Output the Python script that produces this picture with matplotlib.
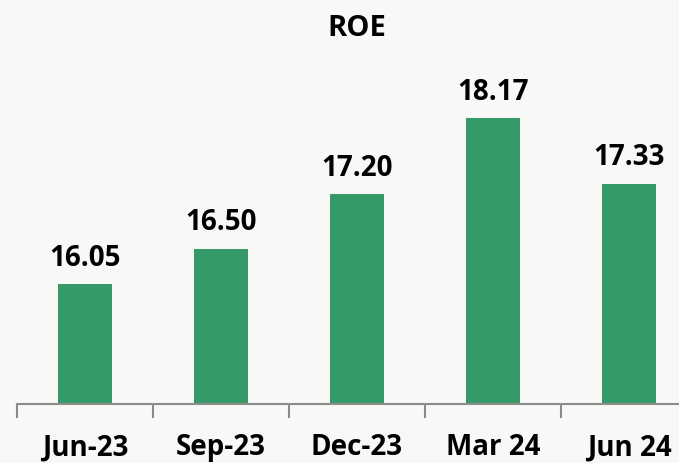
"""
ROE bar chart by quarter
"""

import matplotlib
matplotlib.use('Agg')
import matplotlib.pyplot as plt
import numpy as np

# Data
categories = ['Jun-23', 'Sep-23', 'Dec-23', 'Mar 24', 'Jun 24']
roe = [16.05, 16.50, 17.20, 18.17, 17.33]
title = 'ROE'

BAR_COLOR = '#359A68'
BG_COLOR = '#F8F8F6'
AXIS_COLOR = '#8C8C8C'

plt.rcParams['font.family'] = ['Open Sans', 'DejaVu Sans']

fig = plt.figure(figsize=(6.79, 4.63), dpi=100)
fig.patch.set_facecolor(BG_COLOR)

# axes runs past the right edge of the figure, as in the original
ax = fig.add_axes([17 / 679, 59 / 463, 680 / 679, 404 / 463])
ax.set_facecolor('none')

x = np.arange(len(categories))
ax.bar(x, roe, width=0.4, color=BAR_COLOR, zorder=2)

ax.set_xlim(-0.5, len(categories) - 0.5)
ax.set_ylim(14.52, 19.68)

# value labels above bars
for xi, v in zip(x, roe):
    ax.annotate(f'{v:.2f}', (xi, v), xytext=(0, 26), textcoords='offset pixels',
                ha='center', va='center', fontsize=20, fontweight='bold',
                color='black')

ax.text(0.5, 1 - 28 / 404, title, transform=ax.transAxes, ha='center',
        va='center', fontsize=21, fontweight='bold', color='black')

# axis styling
for side in ['top', 'right', 'left']:
    ax.spines[side].set_visible(False)
ax.spines['bottom'].set_color(AXIS_COLOR)
ax.spines['bottom'].set_linewidth(1.5)
ax.set_yticks([])

ax.set_xticks(x)
ax.set_xticklabels(categories, fontsize=20, fontweight='bold')
ax.tick_params(axis='x', which='major', length=0, pad=21)
ax.set_xticks(np.arange(-0.5, len(categories)), minor=True)
ax.tick_params(axis='x', which='minor', length=10, width=1.5, color=AXIS_COLOR)

plt.savefig('out.png', dpi=100, facecolor=BG_COLOR)
